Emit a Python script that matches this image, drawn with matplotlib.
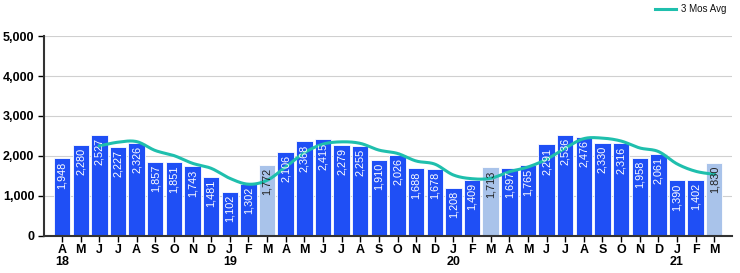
import matplotlib
matplotlib.use("Agg")
import matplotlib.pyplot as plt
import numpy as np

plt.rcParams['font.family'] = ['Liberation Sans', 'DejaVu Sans']

months = ["A","M","J","J","A","S","O","N","D","J","F","M"] * 3
year_marks = {0: "18", 9: "19", 21: "20", 33: "21"}
values = [1948, 2280, 2527, 2227, 2326, 1857, 1851, 1743, 1481, 1102, 1302, 1772,
          2106, 2368, 2415, 2279, 2255, 1910, 2026, 1688, 1678, 1208, 1409, 1713,
          1697, 1765, 2291, 2536, 2476, 2330, 2316, 1958, 2061, 1390, 1402, 1830]
avg_start = 2
avg3 = [2252, 2345, 2360, 2137, 2011, 1817, 1692, 1442, 1295, 1392, 1727, 2082,
        2296, 2354, 2316, 2148, 2064, 1875, 1797, 1525, 1432, 1443, 1606, 1725,
        1918, 2197, 2434, 2447, 2374, 2201, 2112, 1803, 1618, 1541]
highlight = [11, 23, 35]

fig = plt.figure(figsize=(7.4, 2.73), dpi=100)
ax = fig.add_axes([44/740, 37/273, 688/740, 200/273])

x = np.arange(len(values))
colors = ["#a9c3ea" if i in highlight else "#1f4ff5" for i in x]
ax.bar(x, values, width=0.88, color=colors, edgecolor="white", linewidth=0.6, zorder=2)

for i, v in enumerate(values):
    c = "#222222" if i in highlight else "white"
    ax.text(i, v - 80, f"{v:,}", rotation=90, ha="center", va="top",
            color=c, fontsize=7.8, zorder=4)

# smooth line (Catmull-Rom) through avg points
xa = np.arange(avg_start, avg_start + len(avg3)).astype(float)
ya = np.array(avg3, dtype=float)
px = np.concatenate([[xa[0]], xa, [xa[-1]]])
py = np.concatenate([[ya[0]], ya, [ya[-1]]])
sx, sy = [], []
for k in range(1, len(px) - 2):
    t = np.linspace(0, 1, 20, endpoint=False)
    for arr, out in ((px, sx), (py, sy)):
        p0, p1, p2, p3 = arr[k-1], arr[k], arr[k+1], arr[k+2]
        out.extend(0.5 * ((2*p1) + (-p0 + p2)*t + (2*p0 - 5*p1 + 4*p2 - p3)*t**2 + (-p0 + 3*p1 - 3*p2 + p3)*t**3))
sx.append(xa[-1]); sy.append(ya[-1])
ax.plot(sx, sy, color="#1fbfad", linewidth=2.2, zorder=3)

ax.set_ylim(0, 5000)
ax.set_xlim(-0.97, 35.95)
ax.set_yticks(range(0, 5001, 1000))
ax.set_yticklabels([f"{v:,}" for v in range(0, 5001, 1000)], fontsize=9, fontweight="bold")
ax.yaxis.grid(True, color="#d0d0d0", linewidth=0.8, zorder=0)
ax.set_axisbelow(True)
ax.set_xticks(x)
ax.set_xticklabels([m + ("\n" + year_marks[i] if i in year_marks else "") for i, m in enumerate(months)],
                   fontsize=9, fontweight="bold", linespacing=0.95)
ax.tick_params(axis="x", length=4, width=1, pad=2)
ax.tick_params(axis="y", length=4, width=1, pad=3)
for s in ["top", "right"]:
    ax.spines[s].set_visible(False)
ax.spines["left"].set_color("#333333")
ax.spines["left"].set_linewidth(1.5)
ax.spines["bottom"].set_color("#333333")
ax.spines["bottom"].set_linewidth(1.5)

fig.lines.append(plt.Line2D([655/740, 676/740], [1 - 9/273, 1 - 9/273], color="#1fbfad",
                            linewidth=2.2, transform=fig.transFigure))
fig.text(681/740, 1 - 9/273, "3 Mos Avg", fontsize=7, va="center", ha="left", color="#111111")

fig.savefig("out.png", dpi=100)
